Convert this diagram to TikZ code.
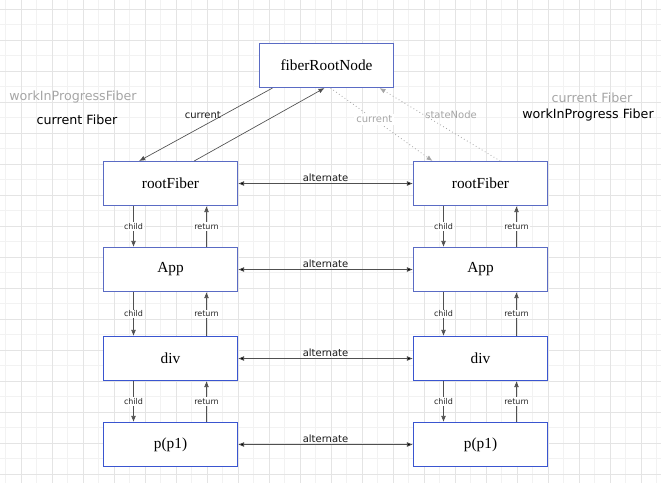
\documentclass[tikz,border=0pt]{standalone}
\usepackage{fontspec}
\setmainfont{Liberation Serif}
\setsansfont{DejaVu Sans}
\usepackage{xcolor}
\usetikzlibrary{arrows.meta, positioning}
\definecolor{boxblue}{HTML}{5A6BC4}
\definecolor{boxdeep}{HTML}{3A55D0}
\definecolor{linkgray}{HTML}{505050}
\definecolor{softgray}{HTML}{A6A6A6}
\definecolor{gridminor}{HTML}{F2F2F2}
\definecolor{gridmajor}{HTML}{E4E4E4}

\begin{document}
\begin{tikzpicture}[x=0.75pt,y=-0.75pt,node distance=65pt,on grid,auto,>={Latex[length=4.5pt,width=3.6pt]}]
    \tikzstyle{fiber}=[shape=rectangle,draw=boxblue,line width=0.8pt,fill=white,minimum width=100.5pt,minimum height=33pt,inner sep=0pt,font=\fontsize{11.5}{13}\selectfont]
    \tikzstyle{fiberdeep}=[fiber,draw=boxdeep]
    \tikzstyle{link}=[draw=linkgray,line width=0.5pt]
    \tikzstyle{ghost}=[draw=softgray,line width=0.6pt,dotted]
    \tikzstyle{tag}=[anchor=center,font=\sffamily\fontsize{6}{7}\selectfont,text=black!85,fill=white,inner sep=1pt]
    \tikzstyle{note}=[font=\sffamily\fontsize{7.5}{9}\selectfont,text=black!90,inner sep=1.5pt]
    \tikzstyle{caption}=[font=\sffamily\fontsize{9.5}{11}\selectfont]

    % grid background
    \useasboundingbox (0,0) rectangle (661,483);
    \fill[white] (0,0) rectangle (661,483);
    \foreach \k in {0,...,42} \draw[gridminor,line width=0.75pt] (5.8+15.5*\k,0) -- (5.8+15.5*\k,483);
    \foreach \k in {0,...,30} \draw[gridminor,line width=0.75pt] (0,9.3+15.5*\k) -- (661,9.3+15.5*\k);
    \foreach \k in {0,...,20} \draw[gridmajor,line width=0.75pt] (21.3+31*\k,0) -- (21.3+31*\k,483);
    \foreach \k in {0,...,15} \draw[gridmajor,line width=0.75pt] (0,9.3+31*\k) -- (661,9.3+31*\k);

    \node[fiber] (top) at (326.5,65.5) {fiberRootNode};
    \node[fiber] (L0) at (170.5,183.5) {rootFiber};
    \node[fiber, below=64.5pt of L0] (L1) {App};
    \node[fiberdeep, below=66.75pt of L1] (L2) {div};
    \node[fiberdeep, below=64.5pt of L2] (L3) {p(p1)};
    \node[fiber, right=232.5pt of L0] (R0) {rootFiber};
    \node[fiber, right=232.5pt of L1] (R1) {App};
    \node[fiberdeep, right=232.5pt of L2] (R2) {div};
    \node[fiberdeep, right=232.5pt of L3] (R3) {p(p1)};

    % side captions
    \node[caption, text=softgray] (wipL) at (73,97) {workInProgressFiber};
    \node[caption] (curL) at (77,120) {current Fiber};
    \node[caption, text=softgray] (curR) at (592,98) {current Fiber};
    \node[caption] (wipR) at (588,115) {workInProgress Fiber};

    % links to the root node
    \draw[->, link] ([xshift=-40.5pt]top.south) -- node[note, pos=0.37, left] {current} ([xshift=-23.5pt]L0.north);
    \draw[->, link] ([xshift=17.8pt]L0.north) -- ([xshift=-1.5pt]top.south);
    \draw[->, ghost] ([xshift=3pt]top.south) -- node[note, pos=0.43, anchor=center, text=softgray, fill=white] {current} ([xshift=-36pt]R0.north);
    \draw[->, ghost] ([xshift=14.8pt]R0.north) -- node[note, pos=0.64, right, text=softgray] {stateNode} ([xshift=39.75pt]top.south);

    \path[<->, link]
    (L0) edge node[note, above] {alternate} (R0)
    (L1) edge node[note, above] {alternate} (R1)
    (L2) edge node[note, above] {alternate} (R2)
    (L3) edge node[note, above] {alternate} (R3)
    ;

    \foreach \a/\b in {L0/L1, L1/L2, L2/L3, R0/R1, R1/R2, R2/R3} {
        \draw[->, link] ([xshift=-27.75pt]\a.south) -- node[tag] {child} ([xshift=-27.75pt]\b.north);
        \draw[->, link] ([xshift=27pt]\b.north) -- node[tag] {return} ([xshift=27pt]\a.south);
    }
\end{tikzpicture}
\end{document}
